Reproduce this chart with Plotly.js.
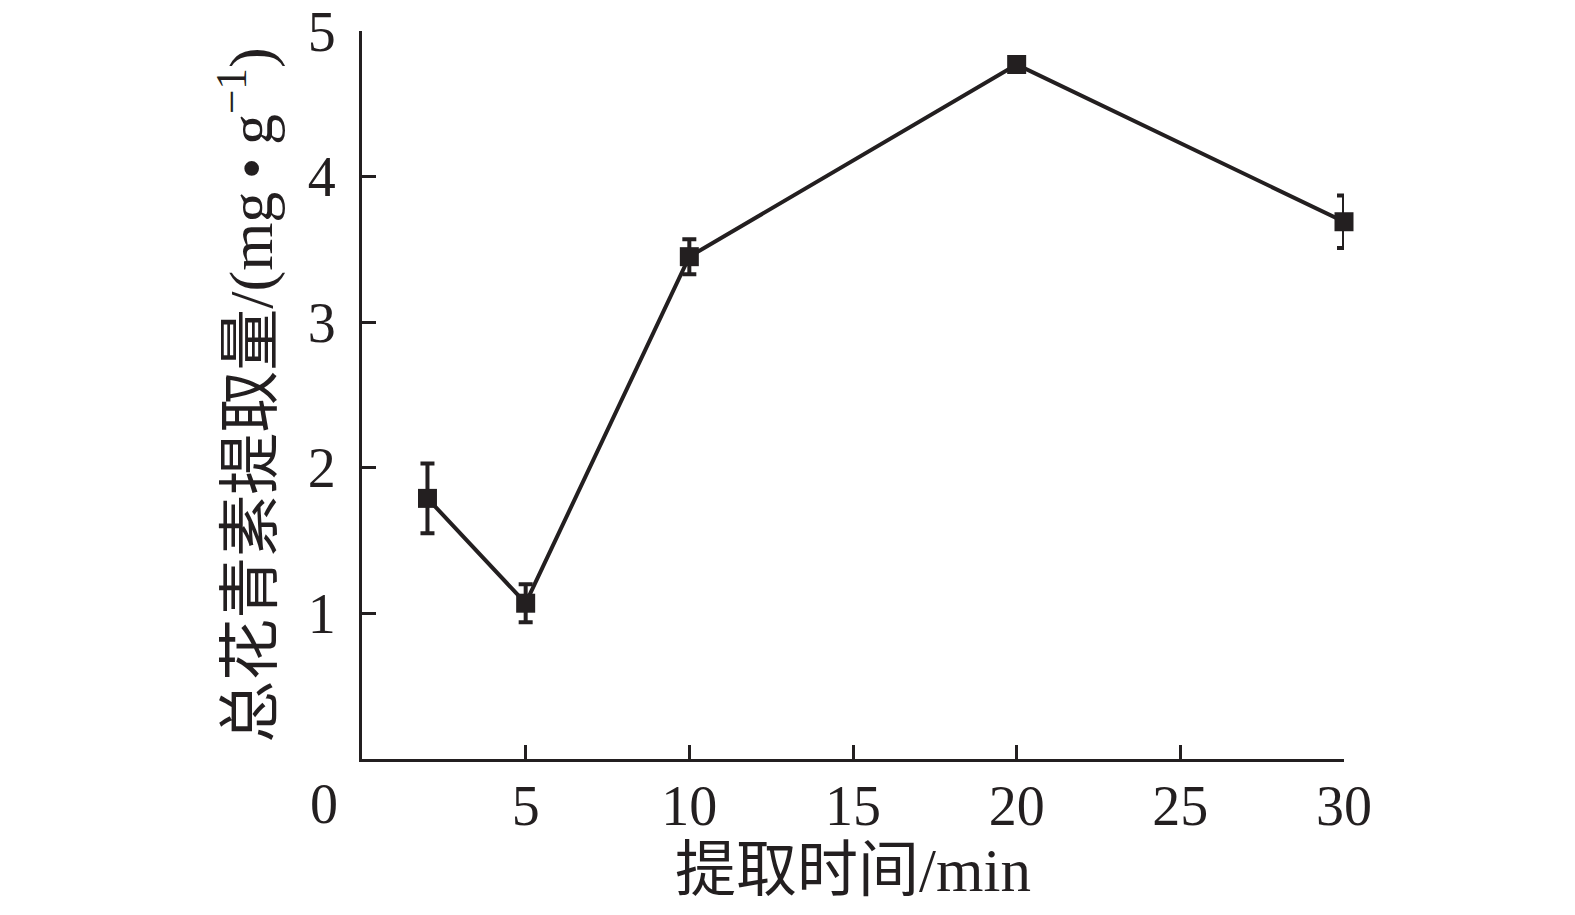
<!DOCTYPE html>
<html>
<head>
<meta charset="utf-8">
<script src="https://cdn.plot.ly/plotly-3.0.1.min.js"></script>
<style>html,body{margin:0;padding:0;background:#fff;}#chart{width:1575px;height:915px;}</style>
</head>
<body>
<div id="chart"></div>
<script>
const times = [2, 5, 10, 20, 30];
const yields = [1.79, 1.07, 3.45, 4.77, 3.69];
const errors = [0.24, 0.13, 0.12, 0.04, 0.18];
const xTickVals = [5, 10, 15, 20, 25, 30];
const xTickText = ['5', '10', '15', '20', '25', '30'];
const yTickVals = [1, 2, 3, 4, 5];
const yTickText = ['1', '2', '3', '4', '5'];
const xTitle = '提取时间/min';
const yTitle = '总花青素提取量/(mg\u2009•\u2009g<sup>−1</sup>)';
const originLabel = '0';

const FONT = '"Liberation Serif", "Times New Roman", "Noto Sans CJK SC", serif';
const INK = '#231f20';

const trace = {
  x: times, y: yields, type: 'scatter', mode: 'lines+markers',
  cliponaxis: false,
  line: {color: INK, width: 4},
  marker: {symbol: 'square', size: 19, color: INK},
  error_y: {type: 'data', array: errors, visible: true, color: INK, thickness: 4, width: 7}
};

const layout = {
  width: 1575, height: 915,
  margin: {l: 362, r: 231, t: 31, b: 156},
  paper_bgcolor: '#fff', plot_bgcolor: '#fff',
  showlegend: false,
  font: {family: FONT, color: INK, size: 56},
  xaxis: {
    range: [0, 30], tickvals: xTickVals, ticktext: xTickText,
    ticks: 'inside', ticklen: 14, tickwidth: 3, tickcolor: INK,
    showline: true, linecolor: INK, linewidth: 3, showgrid: false, zeroline: false,
    tickfont: {family: FONT, size: 56, color: INK},
    ticklabelstandoff: -4,
    title: {text: xTitle, font: {family: FONT, size: 61, color: INK}, standoff: 6}
  },
  yaxis: {
    range: [0, 5], tickvals: yTickVals, ticktext: yTickText,
    ticks: 'inside', ticklen: 14, tickwidth: 3, tickcolor: INK,
    showline: true, linecolor: INK, linewidth: 3, showgrid: false, zeroline: false,
    tickfont: {family: FONT, size: 56, color: INK},
    ticklabelstandoff: 12,
    title: {text: yTitle, font: {family: FONT, size: 62, color: INK}, standoff: 16}
  },
  annotations: [{
    text: originLabel, xref: 'paper', yref: 'paper', x: -0.039, y: 0,
    xanchor: 'center', yanchor: 'top', yshift: -12, showarrow: false,
    font: {family: FONT, size: 56, color: INK}
  }]
};

Plotly.newPlot('chart', [trace], layout, {displayModeBar: false});
</script>
</body>
</html>
